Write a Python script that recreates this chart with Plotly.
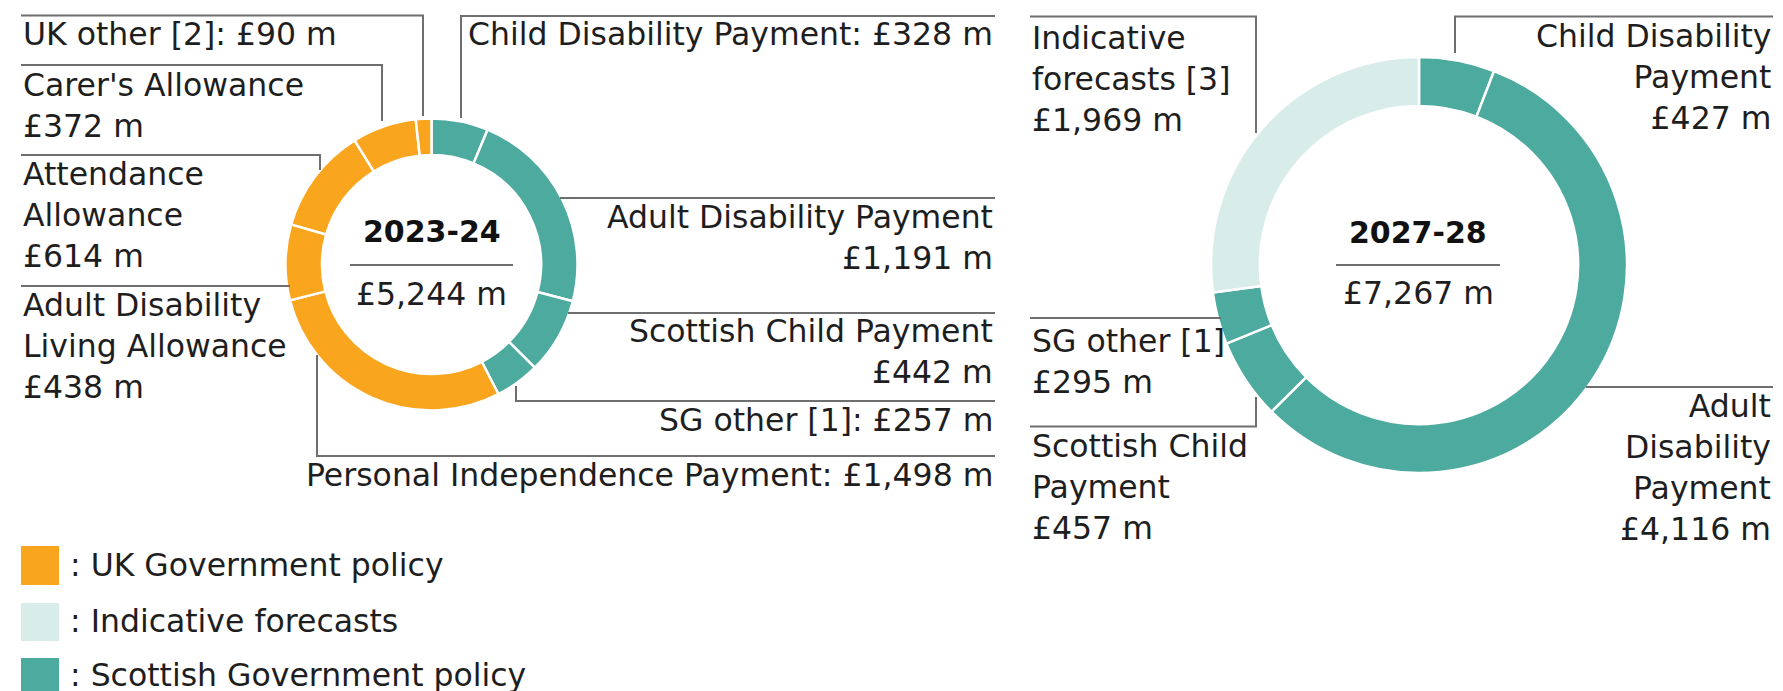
import plotly.graph_objects as go

# ---------------- data ----------------
years = ["2023-24", "2027-28"]
totals = [5244, 7267]

left_categories = ["Child Disability Payment", "Adult Disability Payment", "Scottish Child Payment",
                   "SG other [1]", "Personal Independence Payment", "Adult Disability Living Allowance",
                   "Attendance Allowance", "Carer's Allowance", "UK other [2]"]
left_values = [328, 1191, 442, 257, 1498, 438, 614, 372, 90]
left_groups = ["SG", "SG", "SG", "SG", "UK", "UK", "UK", "UK", "UK"]

right_categories = ["Child Disability Payment", "Adult Disability Payment", "Scottish Child Payment",
                    "SG other [1]", "Indicative forecasts [3]"]
right_values = [427, 4116, 457, 295, 1969]
right_groups = ["SG", "SG", "SG", "SG", "IF"]

legend_groups = ["UK", "IF", "SG"]
legend_labels = [": UK Government policy", ": Indicative forecasts", ": Scottish Government policy"]

# ---------------- styles ----------------
W, H = 1783, 691
COLORS = {"UK": "#F9A51E", "IF": "#D8ECEA", "SG": "#4DAA9E"}
FONT = "DejaVu Sans"
FS = 31.5
TXT = "#1e1e1e"
LINE = "#6f6f6f"
DY = -1.5  # small vertical nudge for text


def px(x):
    return x / W


def py(y):
    return 1 - y / H


def money(v):
    return f"£{v:,} m"


fig = go.Figure()

# donuts
pies = [
    dict(cats=left_categories, vals=left_values, groups=left_groups, cx=423.5, cy=256.5, r=146, hole=0.75),
    dict(cats=right_categories, vals=right_values, groups=right_groups, cx=1411, cy=257, r=208, hole=0.765),
]
for p in pies:
    fig.add_trace(go.Pie(
        labels=p["cats"], values=p["vals"], sort=False, direction="clockwise", rotation=0,
        hole=p["hole"], textinfo="none", hoverinfo="label+value", showlegend=False,
        marker=dict(colors=[COLORS[g] for g in p["groups"]], line=dict(color="white", width=2.5)),
        domain=dict(x=[px(p["cx"] - p["r"]), px(p["cx"] + p["r"])],
                    y=[py(p["cy"] + p["r"]), py(p["cy"] - p["r"])]),
    ))

annotations = []
shapes = []


def add_text(text, x, y, align, size=FS, color=TXT):
    annotations.append(dict(
        text=text, x=px(x), y=py(y + DY), xref="paper", yref="paper", showarrow=False,
        xanchor={"left": "left", "right": "right", "center": "center"}[align], yanchor="middle",
        align=align, font=dict(family=FONT, size=size, color=color),
    ))


def add_path(points, color=LINE, width=2):
    d = "M " + " L ".join(f"{px(x)},{py(y)}" for x, y in points)
    shapes.append(dict(type="path", path=d, xref="paper", yref="paper",
                       line=dict(color=color, width=width)))


# label layout: name lines (None -> single line "name: value"), anchor x, middle y, align, connector
left_layout = {
    "Child Disability Payment": (None, 987, 28, "right", [(453, 110), (453, 8), (987, 8)]),
    "Adult Disability Payment": (["Adult Disability Payment"], 987, 231, "right", [(552, 190), (987, 190)]),
    "Scottish Child Payment": (["Scottish Child Payment"], 987, 345.5, "right", [(560, 305), (987, 305)]),
    "SG other [1]": (None, 987, 413, "right", [(508, 378), (508, 393), (987, 393)]),
    "Personal Independence Payment": (None, 987, 468, "right", [(309, 347), (309, 448), (987, 448)]),
    "Adult Disability Living Allowance": (["Adult Disability", "Living Allowance"], 13, 339, "left",
                                          [(13, 278), (282, 278)]),
    "Attendance Allowance": (["Attendance", "Allowance"], 13, 208, "left", [(13, 147), (312, 147), (312, 162)]),
    "Carer's Allowance": (["Carer's Allowance"], 13, 99, "left", [(13, 57), (374, 57), (374, 113)]),
    "UK other [2]": (None, 13, 28, "left", [(13, 7.5), (415, 7.5), (415, 108)]),
}
right_layout = {
    "Child Disability Payment": (["Child Disability", "Payment"], 1765, 70, "right",
                                 [(1447, 45), (1447, 8.6), (1765, 8.6)]),
    "Adult Disability Payment": (["Adult", "Disability", "Payment"], 1765, 461, "right",
                                 [(1578, 379), (1765, 379)]),
    "Scottish Child Payment": (["Scottish Child", "Payment"], 1022, 481, "left",
                               [(1022, 418.5), (1248, 418.5), (1248, 389)]),
    "SG other [1]": (["SG other [1]"], 1022, 354.5, "left", [(1022, 310), (1213, 310)]),
    "Indicative forecasts [3]": (["Indicative", "forecasts [3]"], 1022, 72, "left",
                                 [(1022, 8.6), (1248, 8.6), (1248, 125)]),
}

for cats, vals, lay in [(left_categories, left_values, left_layout), (right_categories, right_values, right_layout)]:
    for c, v in zip(cats, vals):
        lines, x, y, align, path = lay[c]
        if lines is None:
            text = f"{c}: {money(v)}"
        else:
            text = "<br>".join(lines + [money(v)])
        add_text(text, x, y, align)
        add_path(path)

# centre labels
centres = [(423.5, 225, 287, 342, 505), (1410, 226, 286, 1328, 1492)]
for (cx, ty, vy, x0, x1), yr, tot in zip(centres, years, totals):
    add_text(f"<b>{yr}</b>", cx, ty, "center", size=30, color="#111111")
    add_text(money(tot), cx, vy, "center")
    add_path([(x0, 257), (x1, 257)], width=2)

# legend
leg_rows = [(538, 577, 558), (595, 633, 614), (650, 688, 668)]
for g, lab, (y0, y1, yc) in zip(legend_groups, legend_labels, leg_rows):
    shapes.append(dict(type="rect", xref="paper", yref="paper", x0=px(13), x1=px(51),
                       y0=py(y1), y1=py(y0), fillcolor=COLORS[g], line=dict(width=0)))
    add_text(lab, 60, yc, "left")

fig.update_layout(
    width=W, height=H, margin=dict(l=0, r=0, t=0, b=0),
    paper_bgcolor="white", plot_bgcolor="white",
    annotations=annotations, shapes=shapes, showlegend=False,
)

fig.write_html("out.html")
